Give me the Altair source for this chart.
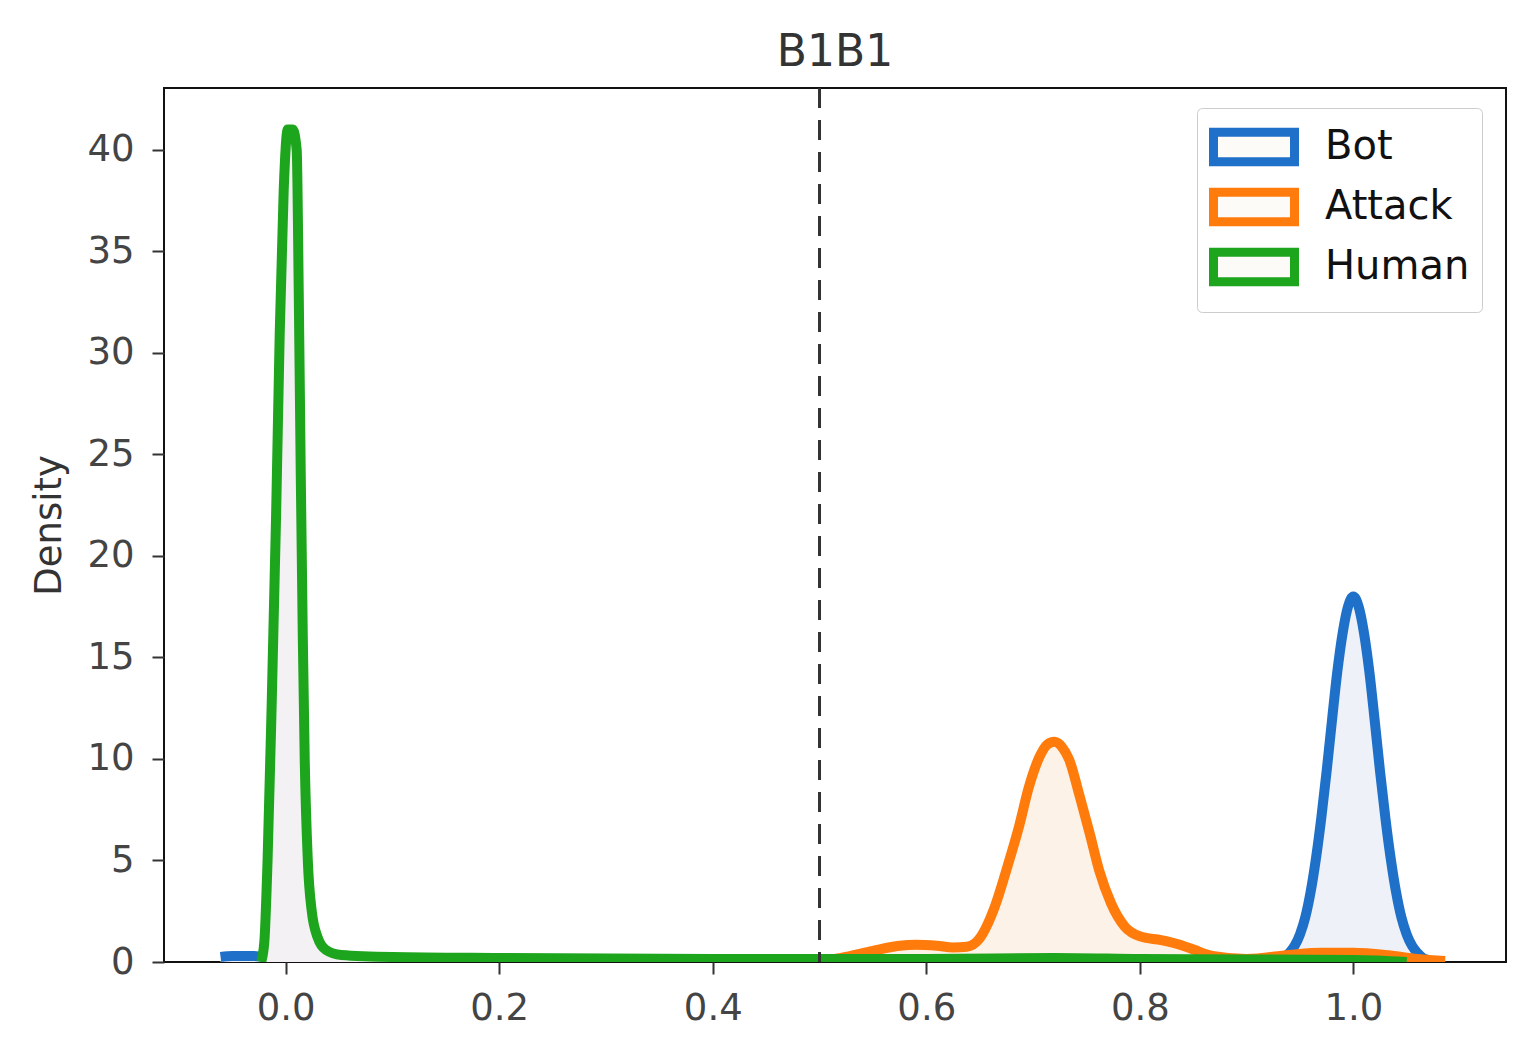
import altair as alt
import pandas as pd

# ---- data ----
series_names = ["Bot", "Attack", "Human"]
line_colors = ["#1f70c8", "#ff7b0c", "#1ea51e"]
fill_colors = ["#eef1f7", "#fdf2e7", "#f4f1f4"]

bot_x = [-0.061, -0.05, -0.03, -0.02, 0.0, 0.05, 0.2, 0.4, 0.6, 0.68, 0.70, 0.72, 0.74, 0.76,
         0.85, 0.92, 0.935, 0.94, 0.945, 0.95, 0.955, 0.96, 0.965, 0.97, 0.975, 0.98, 0.985, 0.99,
         0.995, 1.0, 1.005, 1.01, 1.015, 1.02, 1.025, 1.03, 1.035, 1.04, 1.045, 1.05, 1.055,
         1.06, 1.065, 1.07]
bot_y = [0.25, 0.3, 0.3, 0.25, 0.2, 0.12, 0.08, 0.06, 0.08, 0.2, 0.45, 0.55, 0.45, 0.2,
         0.08, 0.15, 0.2, 0.45, 0.8, 1.36, 2.2, 3.45, 5.1, 7.1, 9.4, 11.9, 14.3, 16.2,
         17.5, 18.0, 17.5, 16.2, 14.3, 11.9, 9.4, 7.1, 5.1, 3.45, 2.2, 1.36, 0.8,
         0.45, 0.2, 0.1]

att_x = [0.48, 0.52, 0.55, 0.575, 0.59, 0.61, 0.625, 0.638, 0.649, 0.664, 0.676, 0.687,
         0.696, 0.706, 0.713, 0.720, 0.727, 0.734, 0.743, 0.753, 0.762, 0.773, 0.786,
         0.801, 0.820, 0.839, 0.851, 0.868, 0.90, 0.94, 0.97, 1.0, 1.03, 1.06, 1.086]
att_y = [0.0, 0.2, 0.55, 0.8, 0.85, 0.8, 0.72, 0.75, 1.1, 2.7, 4.7, 6.7,
         8.6, 10.1, 10.7, 10.85, 10.6, 9.95, 8.3, 6.35, 4.5, 2.9, 1.74,
         1.25, 1.08, 0.83, 0.6, 0.3, 0.15, 0.35, 0.45, 0.45, 0.35, 0.15, 0.05]

hum_x = [-0.023, -0.020, -0.017, -0.013, -0.009, -0.0056, -0.0019, 0.0019, 0.0066, 0.0103,
         0.0122, 0.0141, 0.016, 0.0178, 0.0207, 0.0244, 0.030, 0.0376, 0.052, 0.10, 0.2,
         0.4, 0.6, 0.72, 0.8, 1.0, 1.05]
hum_y = [0.0, 1.0, 5.0, 13.0, 22.0, 31.0, 38.0, 41.0, 41.0, 40.0,
         33.0, 24.0, 16.0, 10.0, 5.0, 2.5, 1.2, 0.6, 0.35, 0.25, 0.2,
         0.15, 0.15, 0.2, 0.15, 0.1, 0.0]

threshold = [0.5]
x_ticks = [0.0, 0.2, 0.4, 0.6, 0.8, 1.0]
y_ticks = [0, 5, 10, 15, 20, 25, 30, 35, 40]

rows = []
for name, xs, ys in [("Bot", bot_x, bot_y), ("Attack", att_x, att_y), ("Human", hum_x, hum_y)]:
    for i, (a, b) in enumerate(zip(xs, ys)):
        rows.append({"series": name, "x": a, "density": b, "i": i})
df = pd.DataFrame(rows)

FONT = "DejaVu Sans"

xscale = alt.Scale(domain=[-0.114, 1.143], nice=False, zero=False)
yscale = alt.Scale(domain=[0, 43.05], nice=False)

xaxis = alt.Axis(values=x_ticks, format=".1f", title=None, grid=False, tickSize=12,
                 tickWidth=2, tickColor="#333", labelPadding=16, labelFontSize=37,
                 labelColor="#444", labelFont=FONT, domain=False)
yaxis = alt.Axis(values=y_ticks, title="Density", grid=False, tickSize=12, tickWidth=2,
                 tickColor="#333", labelPadding=18, labelFontSize=37, labelColor="#444",
                 labelFont=FONT, titleFontSize=37, titleFont=FONT, titleFontWeight="normal",
                 titleColor="#333", titlePadding=18, domain=False)

stroke_scale = alt.Scale(domain=series_names, range=line_colors)

legend = alt.Legend(
    title=None, orient="none", legendX=1033, legendY=20,
    symbolType="M-1,-0.66H2.6V0.66H-1Z", symbolSize=2025, symbolStrokeWidth=9,
    symbolFillColor="#fcfbf8",
    labelFontSize=40, labelOffset=62,
)

layers = []
for k, name in enumerate(series_names):
    base = alt.Chart(df).transform_filter(alt.datum.series == name)
    area = base.mark_area(interpolate="monotone", clip=True, fillOpacity=1).encode(
        x=alt.X("x:Q", scale=xscale, axis=xaxis),
        y=alt.Y("density:Q", scale=yscale, axis=yaxis, stack=None),
        fill=alt.value(fill_colors[k]),
    )
    line = base.mark_line(interpolate="monotone", clip=True, strokeWidth=10,
                          strokeJoin="round").encode(
        x=alt.X("x:Q", scale=xscale),
        y=alt.Y("density:Q", scale=yscale),
        stroke=alt.Stroke("series:N", scale=stroke_scale, legend=legend),
        order="i:Q",
    )
    layers += [area, line]

rule = alt.Chart(pd.DataFrame({"t": threshold})).mark_rule(
    color="#333", strokeWidth=3, strokeDash=[20, 12]
).encode(x=alt.X("t:Q", scale=xscale))

chart = alt.layer(*layers, rule).properties(
    width=1342, height=874,
    background="white",
    title=alt.TitleParams("B1B1", fontSize=44, font=FONT, fontWeight="normal",
                          color="#333", offset=12),
    padding={"left": 22, "top": 22, "right": 8, "bottom": 10},
).configure_view(stroke="#111", strokeWidth=2).configure_legend(
    padding=12, rowPadding=-6, strokeColor="#cccccc", fillColor="white",
    cornerRadius=5, labelFont=FONT, labelColor="#111",
)

chart.save("out.html", embed_options={"renderer": "svg", "actions": False})
